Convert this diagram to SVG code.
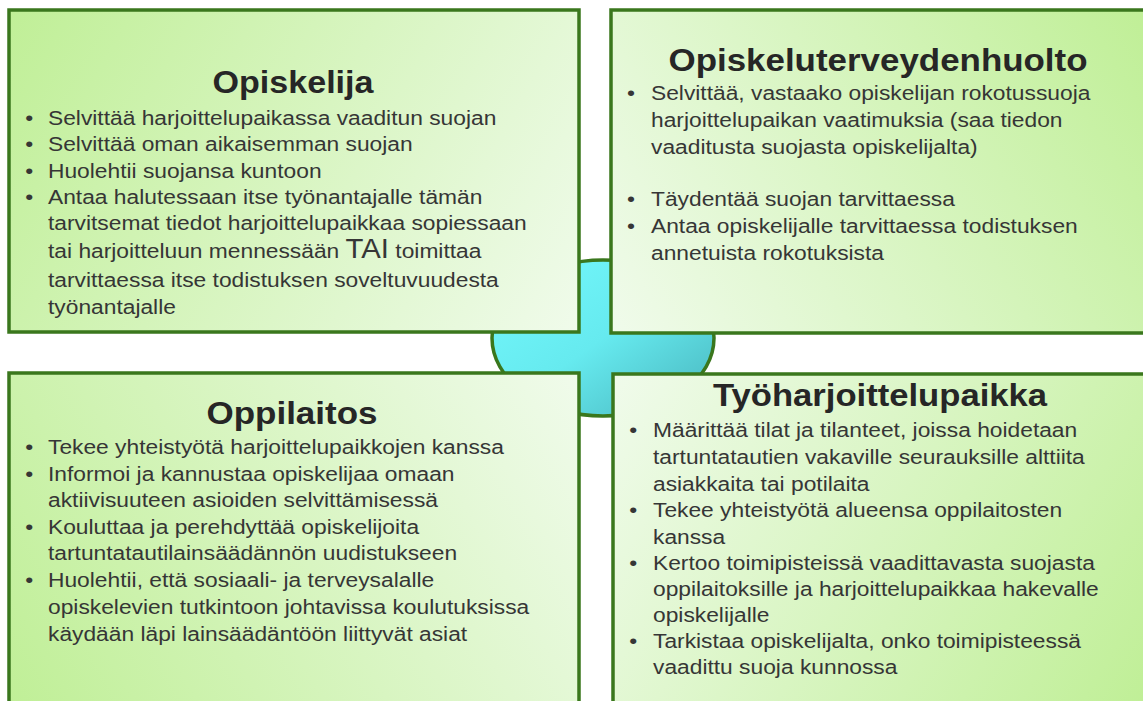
<svg xmlns="http://www.w3.org/2000/svg" width="1143" height="701" viewBox="0 0 1143 701">
<defs>
<linearGradient id="gTL" gradientUnits="userSpaceOnUse" x1="9" y1="10" x2="579" y2="332"><stop offset="0" stop-color="#c0ef97"/><stop offset="1" stop-color="#f0fbeb"/></linearGradient>
<linearGradient id="gTR" gradientUnits="userSpaceOnUse" x1="1143" y1="10" x2="611" y2="333"><stop offset="0" stop-color="#c0ef97"/><stop offset="1" stop-color="#f0fbeb"/></linearGradient>
<linearGradient id="gBL" gradientUnits="userSpaceOnUse" x1="9" y1="701" x2="579" y2="373"><stop offset="0" stop-color="#c0ef97"/><stop offset="1" stop-color="#f0fbeb"/></linearGradient>
<linearGradient id="gBR" gradientUnits="userSpaceOnUse" x1="1143" y1="701" x2="613" y2="374"><stop offset="0" stop-color="#c0ef97"/><stop offset="1" stop-color="#f0fbeb"/></linearGradient>
<linearGradient id="gEl" x1="0" y1="0" x2="1" y2="1"><stop offset="0" stop-color="#74f9fd"/><stop offset="0.5" stop-color="#66eaef"/><stop offset="1" stop-color="#47b3bb"/></linearGradient>
</defs>
<style>
.box{stroke:#3a771d;stroke-width:3.5}
.title{font-family:"Liberation Sans",Arial,sans-serif;font-weight:bold;font-size:32px;fill:#262626;text-anchor:middle}
.body{font-family:"Liberation Sans",Arial,sans-serif;font-size:21px;fill:#363636}
.big{font-size:27px}
</style>
<rect width="1143" height="701" fill="#ffffff"/>
<g id="center">
<ellipse cx="603" cy="338" rx="111" ry="78" fill="url(#gEl)" stroke="#3a771d" stroke-width="3.5"/>
</g>
<g id="opiskelija">
<rect class="box" x="9" y="10" width="570" height="322" fill="url(#gTL)"/>
<text class="title" x="293" y="93" textLength="161" lengthAdjust="spacingAndGlyphs">Opiskelija</text>
<g class="body" transform="matrix(1.085,0,0,1,-4.08,0)">
<text x="27" y="125">•</text><text x="48" y="125">Selvittää harjoittelupaikassa vaaditun suojan</text>
<text x="27" y="151">•</text><text x="48" y="151">Selvittää oman aikaisemman suojan</text>
<text x="27" y="178">•</text><text x="48" y="178">Huolehtii suojansa kuntoon</text>
<text x="27" y="204">•</text><text x="48" y="204">Antaa halutessaan itse työnantajalle tämän</text>
<text x="48" y="230">tarvitsemat tiedot harjoittelupaikkaa sopiessaan</text>
<text x="48" y="258">tai harjoitteluun mennessään <tspan class="big">TAI</tspan> toimittaa</text>
<text x="48" y="287">tarvittaessa itse todistuksen soveltuvuudesta</text>
<text x="48" y="314">työnantajalle</text>
</g>
</g>
<g id="opiskeluterveydenhuolto">
<rect class="box" x="611" y="10" width="600" height="323" fill="url(#gTR)"/>
<text class="title" x="878" y="71" textLength="419" lengthAdjust="spacingAndGlyphs">Opiskeluterveydenhuolto</text>
<g class="body" transform="matrix(1.085,0,0,1,-55.335,0)">
<text x="629" y="100">•</text><text x="651" y="100">Selvittää, vastaako opiskelijan rokotussuoja</text>
<text x="651" y="127">harjoittelupaikan vaatimuksia (saa tiedon</text>
<text x="651" y="154">vaaditusta suojasta opiskelijalta)</text>
<text x="629" y="206">•</text><text x="651" y="206">Täydentää suojan tarvittaessa</text>
<text x="629" y="233">•</text><text x="651" y="233">Antaa opiskelijalle tarvittaessa todistuksen</text>
<text x="651" y="260">annetuista rokotuksista</text>
</g>
</g>
<g id="oppilaitos">
<rect class="box" x="9" y="373" width="570" height="400" fill="url(#gBL)"/>
<text class="title" x="292" y="424" textLength="171" lengthAdjust="spacingAndGlyphs">Oppilaitos</text>
<g class="body" transform="matrix(1.085,0,0,1,-4.08,0)">
<text x="27" y="454">•</text><text x="48" y="454">Tekee yhteistyötä harjoittelupaikkojen kanssa</text>
<text x="27" y="481">•</text><text x="48" y="481">Informoi ja kannustaa opiskelijaa omaan</text>
<text x="48" y="507">aktiivisuuteen asioiden selvittämisessä</text>
<text x="27" y="534">•</text><text x="48" y="534">Kouluttaa ja perehdyttää opiskelijoita</text>
<text x="48" y="560">tartuntatautilainsäädännön uudistukseen</text>
<text x="27" y="587">•</text><text x="48" y="587">Huolehtii, että sosiaali- ja terveysalalle</text>
<text x="48" y="614">opiskelevien tutkintoon johtavissa koulutuksissa</text>
<text x="48" y="641">käydään läpi lainsäädäntöön liittyvät asiat</text>
</g>
</g>
<g id="tyoharjoittelupaikka">
<rect class="box" x="613" y="374" width="600" height="400" fill="url(#gBR)"/>
<text class="title" x="880" y="406" textLength="334" lengthAdjust="spacingAndGlyphs">Työharjoittelupaikka</text>
<g class="body" transform="matrix(1.085,0,0,1,-55.505,0)">
<text x="631" y="437">•</text><text x="653" y="437">Määrittää tilat ja tilanteet, joissa hoidetaan</text>
<text x="653" y="464">tartuntatautien vakaville seurauksille alttiita</text>
<text x="653" y="491">asiakkaita tai potilaita</text>
<text x="631" y="517">•</text><text x="653" y="517">Tekee yhteistyötä alueensa oppilaitosten</text>
<text x="653" y="544">kanssa</text>
<text x="631" y="570">•</text><text x="653" y="570">Kertoo toimipisteissä vaadittavasta suojasta</text>
<text x="653" y="596">oppilaitoksille ja harjoittelupaikkaa hakevalle</text>
<text x="653" y="622">opiskelijalle</text>
<text x="631" y="648">•</text><text x="653" y="648">Tarkistaa opiskelijalta, onko toimipisteessä</text>
<text x="653" y="674">vaadittu suoja kunnossa</text>
</g>
</g>
</svg>
